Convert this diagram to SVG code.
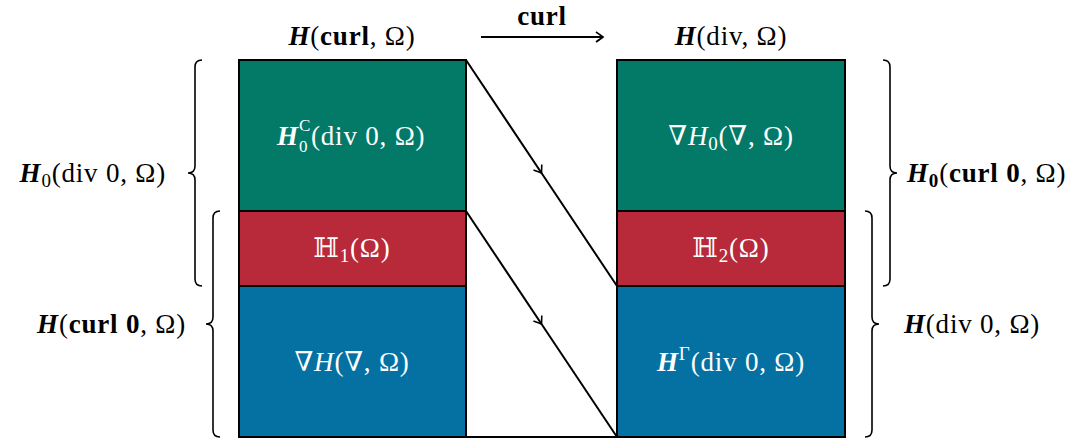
<svg xmlns="http://www.w3.org/2000/svg" width="1089" height="441" viewBox="0 0 1089 441">
<style>
text{font-family:"Liberation Serif","DejaVu Serif",serif;font-size:27px;letter-spacing:0.8px;fill:#000}
.w{fill:#fff}
.bi{font-weight:bold;font-style:italic}
.b{font-weight:bold}
.i{font-style:italic}
.s{font-size:19px}
.ss{font-size:17px}
.box{stroke:#000;stroke-width:2}
.line{stroke:#000;stroke-width:2;fill:none}
.brace{stroke:#000;stroke-width:1.6;fill:none}
</style>
<defs>
<marker id="ah" viewBox="-8 -6 10 12" markerWidth="10" markerHeight="12" refX="0" refY="0" orient="auto" markerUnits="userSpaceOnUse">
<path d="M-7,-5 Q-2,-1.5 0,0 Q-2,1.5 -7,5" stroke="#000" stroke-width="1.6" fill="none"/>
</marker>
</defs>
<rect width="1089" height="441" fill="#fff"/>
<g id="top-labels">
<text x="352" y="45" text-anchor="middle"><tspan class="bi">H</tspan>(<tspan class="b">curl</tspan>, Ω)</text>
<text x="542" y="25" text-anchor="middle" class="b">curl</text>
<text x="731" y="45" text-anchor="middle"><tspan class="bi">H</tspan>(div, Ω)</text>
</g>
<g id="left-green"><rect class="box" x="239" y="60" width="227" height="151" fill="#037A68"/>
<text class="w" x="277" y="145"><tspan class="bi">H</tspan></text>
<text class="w ss" x="299" y="152">0</text>
<text class="w ss" x="299" y="131">C</text>
<text class="w" x="311" y="145">(div 0, Ω)</text></g>
<g id="left-red"><rect class="box" x="239" y="211" width="227" height="75" fill="#B8293A"/>
<text class="w" x="352" y="257" text-anchor="middle">ℍ<tspan class="s" dy="5">1</tspan><tspan dy="-5">(Ω)</tspan></text></g>
<g id="left-blue"><rect class="box" x="239" y="286" width="227" height="151" fill="#0471A2"/>
<text class="w" x="352" y="371" text-anchor="middle">∇<tspan class="i">H</tspan>(∇, Ω)</text></g>
<g id="right-green"><rect class="box" x="617" y="60" width="228" height="151" fill="#037A68"/>
<text class="w" x="731" y="145" text-anchor="middle">∇<tspan class="i">H</tspan><tspan class="s" dy="5">0</tspan><tspan dy="-5">(∇, Ω)</tspan></text></g>
<g id="right-red"><rect class="box" x="617" y="211" width="228" height="75" fill="#B8293A"/>
<text class="w" x="731" y="257" text-anchor="middle">ℍ<tspan class="s" dy="5">2</tspan><tspan dy="-5">(Ω)</tspan></text></g>
<g id="right-blue"><rect class="box" x="617" y="286" width="228" height="151" fill="#0471A2"/>
<text class="w" x="731" y="371" text-anchor="middle"><tspan class="bi">H</tspan><tspan class="s" dy="-11">Γ</tspan><tspan dy="11">(div 0, Ω)</tspan></text></g>
<g id="connectors">
<line class="line" x1="481" y1="37" x2="603" y2="37" marker-end="url(#ah)"/>
<path class="line" d="M466,60 L541.5,173 L617,286" marker-mid="url(#ah)"/>
<path class="line" d="M466,211 L541.5,324 L617,437" marker-mid="url(#ah)"/>
<line class="line" x1="466" y1="437" x2="617" y2="437"/>
</g>
<g id="braces">
<path class="brace" d="M202,60 Q195,60 195,67 L195,166 Q195,173 188,173 Q195,173 195,180 L195,279 Q195,286 202,286"/>
<path class="brace" d="M220,211 Q213,211 213,218 L213,317 Q213,324 206,324 Q213,324 213,331 L213,430 Q213,437 220,437"/>
<path class="brace" d="M883,60 Q890,60 890,67 L890,166 Q890,173 897,173 Q890,173 890,180 L890,279 Q890,286 883,286"/>
<path class="brace" d="M865,211 Q872,211 872,218 L872,317 Q872,324 879,324 Q872,324 872,331 L872,430 Q872,437 865,437"/>
</g>
<g id="brace-labels">
<text x="166" y="182" text-anchor="end"><tspan class="bi">H</tspan><tspan class="s" dy="5">0</tspan><tspan dy="-5">(div 0, Ω)</tspan></text>
<text x="186" y="333" text-anchor="end"><tspan class="bi">H</tspan>(<tspan class="b">curl 0</tspan>, Ω)</text>
<text x="907" y="182"><tspan class="bi">H</tspan><tspan class="s b" dy="5">0</tspan><tspan dy="-5">(<tspan class="b">curl 0</tspan>, Ω)</tspan></text>
<text x="904" y="333"><tspan class="bi">H</tspan>(div 0, Ω)</text>
</g>
</svg>
